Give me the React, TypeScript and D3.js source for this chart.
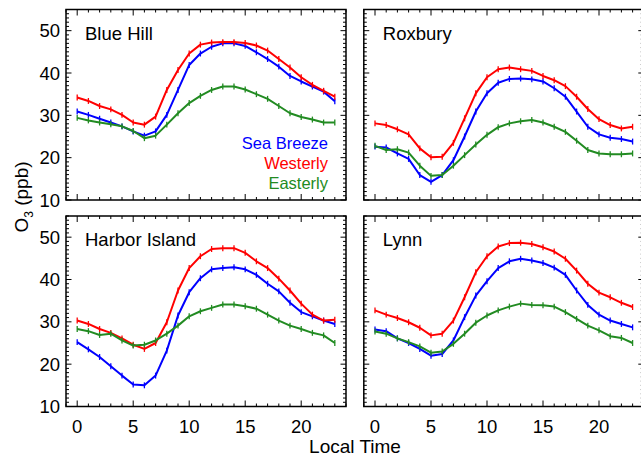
import * as d3 from 'd3';

// hours of day
const hours = d3.range(0, 24);

const sites = ['Blue Hill', 'Roxbury', 'Harbor Island', 'Lynn'];
const seriesNames = ['Sea Breeze', 'Westerly', 'Easterly'];
const seriesColors = ['#0000ff', '#ff0000', '#228b22'];

// O3 (ppb) per hour
const blueHillSea = [30.9, 30.1, 29.2, 28.3, 27.4, 26.2, 25.2, 26.2, 30.1, 36.0, 41.9, 44.6, 46.2, 47.0, 47.0, 46.4, 44.9, 43.3, 41.5, 39.3, 38.0, 36.8, 35.6, 33.3];
const blueHillWest = [34.2, 33.4, 32.2, 31.4, 30.1, 28.3, 27.8, 29.7, 36.0, 40.7, 44.6, 46.7, 47.2, 47.3, 47.3, 47.1, 46.5, 45.3, 43.3, 41.3, 39.0, 37.2, 35.8, 34.4];
const blueHillEast = [29.4, 28.8, 28.3, 27.9, 27.4, 26.3, 24.6, 25.2, 27.8, 30.5, 32.9, 34.6, 36.0, 36.8, 36.8, 36.1, 35.0, 33.9, 32.2, 30.5, 29.6, 29.0, 28.3, 28.3];

const roxburySea = [22.6, 22.4, 21.0, 19.7, 15.9, 14.3, 15.9, 19.4, 25.0, 30.9, 35.2, 37.7, 38.6, 38.7, 38.5, 38.0, 36.4, 34.4, 30.9, 27.3, 25.5, 24.7, 24.4, 23.8];
const roxburyWest = [28.1, 27.7, 26.7, 25.5, 22.2, 20.1, 20.2, 23.5, 29.3, 35.2, 39.0, 40.9, 41.3, 40.9, 40.5, 39.3, 38.3, 36.9, 34.4, 31.5, 29.1, 27.7, 26.9, 27.3];
const roxburyEast = [22.8, 21.8, 22.0, 21.2, 18.1, 15.7, 15.9, 18.1, 20.6, 23.1, 25.4, 27.2, 28.1, 28.6, 28.9, 28.3, 27.3, 26.1, 24.0, 21.8, 21.0, 20.8, 20.8, 21.0];

const harborSea = [25.2, 23.5, 21.7, 19.5, 17.3, 15.2, 15.0, 17.3, 23.2, 31.5, 37.0, 40.3, 42.4, 42.7, 42.9, 42.4, 41.1, 39.0, 37.2, 34.5, 32.3, 31.3, 30.3, 29.5];
const harborWest = [30.3, 29.5, 28.3, 27.4, 26.1, 24.6, 23.6, 25.0, 29.9, 37.4, 42.7, 45.5, 47.2, 47.4, 47.4, 46.3, 44.3, 42.7, 40.2, 37.4, 34.3, 31.7, 30.3, 30.5];
const harborEast = [28.3, 27.8, 26.9, 27.2, 25.6, 24.4, 24.6, 25.6, 27.2, 29.1, 31.3, 32.5, 33.3, 34.1, 34.1, 33.7, 33.1, 31.7, 30.3, 29.1, 28.3, 27.4, 26.8, 25.0];

const lynnSea = [28.2, 27.8, 26.1, 25.0, 23.6, 22.0, 22.4, 25.6, 31.1, 36.2, 39.6, 42.7, 44.3, 44.9, 44.5, 43.9, 42.8, 41.1, 37.4, 34.0, 31.7, 30.3, 29.5, 28.7];
const lynnWest = [32.7, 31.7, 30.9, 29.9, 28.6, 26.8, 27.2, 30.3, 35.8, 41.7, 45.5, 47.8, 48.6, 48.7, 48.4, 47.6, 46.6, 44.9, 42.1, 39.0, 36.9, 35.8, 34.5, 33.5];
const lynnEast = [27.7, 27.2, 26.1, 25.2, 24.2, 22.7, 23.0, 24.8, 27.2, 29.8, 31.5, 32.7, 33.6, 34.3, 34.0, 33.9, 33.6, 32.3, 30.7, 29.1, 28.0, 26.6, 26.2, 25.0];

// approx. half-length of error bars (ppb) per series
const errBars = [0.7, 0.7, 0.7];

const siteData = [
  [blueHillSea, blueHillWest, blueHillEast],
  [roxburySea, roxburyWest, roxburyEast],
  [harborSea, harborWest, harborEast],
  [lynnSea, lynnWest, lynnEast],
];

const xTicks = [0, 5, 10, 15, 20];
const yTicks = [10, 20, 30, 40, 50];

const FONT = '"Liberation Sans", Arial, Helvetica, sans-serif';

function Panel({ idx, left, top }: { idx: number; left: number; top: number }) {
  const w = 280;
  const h = 190.5;
  const x = d3.scaleLinear().domain([-1, 24]).range([left, left + w]);
  const y = d3.scaleLinear().domain([10, 55]).range([top + h, top]);
  const line = d3.line<number>().x((_, i) => x(hours[i])).y(d => y(d));
  const minorX = d3.range(-1, 25);
  const minorY = d3.range(10, 56);
  const isLeft = idx % 2 === 0;
  const isBottom = idx >= 2;

  return (
    <g>
      {/* ticks, inward on all sides */}
      {minorX.map(t => {
        const major = t % 5 === 0;
        const len = major ? 6 : 3;
        return (
          <g key={'x' + t} stroke="#000" strokeWidth={1}>
            <line x1={x(t)} x2={x(t)} y1={top + h} y2={top + h - len} />
            <line x1={x(t)} x2={x(t)} y1={top} y2={top + len} />
          </g>
        );
      })}
      {minorY.map(t => {
        const major = t % 10 === 0;
        const len = major ? 5.5 : 3;
        return (
          <g key={'y' + t} stroke="#000" strokeWidth={1}>
            <line x1={left} x2={left + len} y1={y(t)} y2={y(t)} />
            <line x1={left + w} x2={left + w - len} y1={y(t)} y2={y(t)} />
          </g>
        );
      })}
      <rect x={left} y={top} width={w} height={h} fill="none" stroke="#000" strokeWidth={1.5} />

      {siteData[idx].map((vals, s) => (
        <g key={s} stroke={seriesColors[s]} fill="none">
          <path d={line(vals) ?? ''} strokeWidth={2} strokeLinejoin="round" />
          {vals.map((v, i) => (
            <line key={i} x1={x(hours[i])} x2={x(hours[i])} y1={y(v - errBars[s])} y2={y(v + errBars[s])} strokeWidth={1.3} />
          ))}
        </g>
      ))}

      <text x={left + 19} y={top + 30} fontSize={18.5} fontFamily={FONT} fill="#000">{sites[idx]}</text>

      {isLeft && yTicks.map(t => (
        <text key={t} x={left - 6} y={y(t) + 6.5} fontSize={18.5} fontFamily={FONT} textAnchor="end">{t}</text>
      ))}
      {isBottom && xTicks.map(t => (
        <text key={t} x={x(t)} y={top + h + 26.5} fontSize={18.5} fontFamily={FONT} textAnchor="middle">{t}</text>
      ))}

      {idx === 0 && seriesNames.map((n, s) => (
        <text key={n} x={left + w - 18} y={top + 139 + s * 20} fontSize={16.5} fontFamily={FONT} textAnchor="end" fill={seriesColors[s]}>{n}</text>
      ))}
    </g>
  );
}

export default function App() {
  const lefts = [66, 363.8];
  const tops = [9.5, 216];
  return (
    <svg width={641} height={458} style={{ position: 'absolute', left: 0, top: 0, background: '#fff' }}>
      <rect width={641} height={458} fill="#fff" />
      {sites.map((_, i) => (
        <Panel key={i} idx={i} left={lefts[i % 2]} top={tops[Math.floor(i / 2)]} />
      ))}
      <text x={355} y={453} fontSize={19} fontFamily={FONT} textAnchor="middle">Local Time</text>
      <text transform="translate(28,197) rotate(-90)" fontSize={19} fontFamily={FONT} textAnchor="middle">
        O<tspan fontSize={12} dy={5}>3</tspan><tspan dy={-5}> (ppb)</tspan>
      </text>
    </svg>
  );
}
